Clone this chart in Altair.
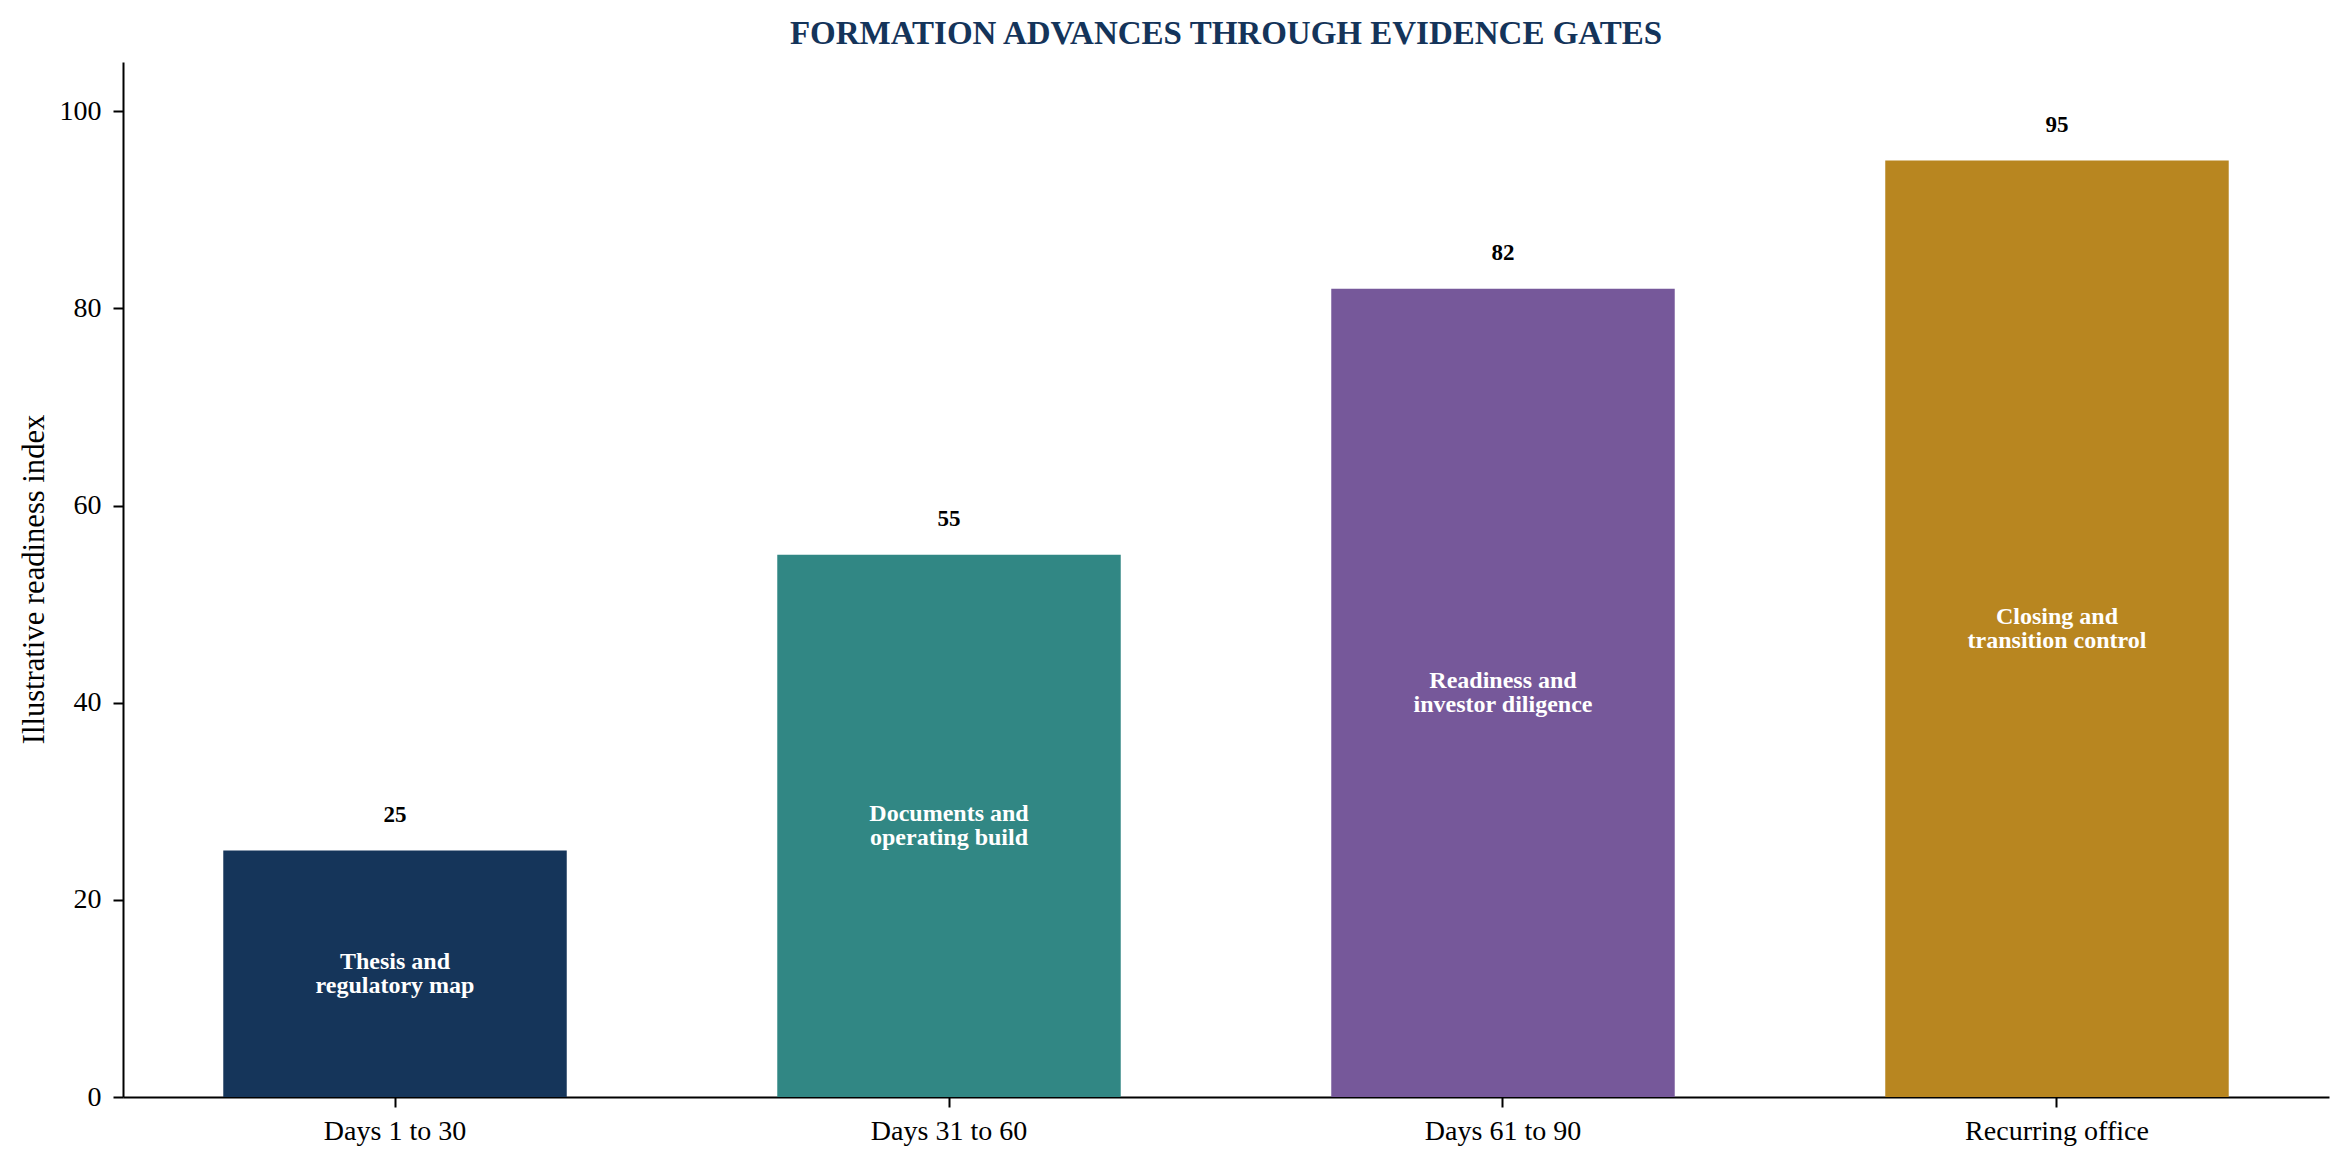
import altair as alt
import pandas as pd

stages = ["Days 1 to 30", "Days 31 to 60", "Days 61 to 90", "Recurring office"]
values = [25, 55, 82, 95]
inner_labels = [
    "Thesis and\nregulatory map",
    "Documents and\noperating build",
    "Readiness and\ninvestor diligence",
    "Closing and\ntransition control",
]
colors = ["#15355A", "#318784", "#76589A", "#B88620"]
y_ticks = [0, 20, 40, 60, 80, 100]

df = pd.DataFrame({"stage": stages, "value": values, "inner": inner_labels})

FONT = "Liberation Serif"

x_enc = alt.X(
    "stage:N",
    sort=stages,
    title=None,
    scale=alt.Scale(paddingInner=0.38, paddingOuter=0.181),
    axis=alt.Axis(labelAngle=0, labelFontSize=28, labelPadding=10, tickSize=10,
                  labelLimit=600),
)
y_scale = alt.Scale(domain=[0, 105], nice=False, zero=True)

base = alt.Chart(df)

bars = base.mark_bar().encode(
    x=x_enc,
    y=alt.Y(
        "value:Q",
        scale=y_scale,
        title="Illustrative readiness index",
        axis=alt.Axis(
            values=y_ticks,
            labelFontSize=28,
            labelPadding=12,
            tickSize=10,
            titleFontSize=30.6,
            titleFontWeight="normal",
            titleX=-80,
            titleY=517,
            titleAngle=270,
            titleAlign="center",
            titleBaseline="alphabetic",
        ),
    ),
    color=alt.Color(
        "stage:N",
        sort=stages,
        scale=alt.Scale(domain=stages, range=colors),
        legend=None,
    ),
)

value_text = base.mark_text(
    font=FONT, fontSize=23, fontWeight="bold", color="black",
    baseline="alphabetic", dy=-29,
).encode(
    x=alt.X("stage:N", sort=stages),
    y=alt.Y("value:Q", scale=y_scale),
    text=alt.Text("value:Q", format="d"),
)

inner_text = base.transform_calculate(mid="datum.value / 2").mark_text(
    font=FONT, fontSize=24, fontWeight="bold", color="white",
    baseline="middle", lineBreak="\n", lineHeight=24, dy=-12,
).encode(
    x=alt.X("stage:N", sort=stages),
    y=alt.Y("mid:Q", scale=y_scale),
    text="inner:N",
)

chart = (
    alt.layer(bars, value_text, inner_text)
    .properties(
        width=2206,
        height=1035,
        autosize=alt.AutoSizeParams(type="none"),
        padding={"left": 115, "top": 54, "right": 12, "bottom": 60},
        title=alt.TitleParams(
            "FORMATION ADVANCES THROUGH EVIDENCE GATES",
            font=FONT,
            fontSize=33,
            fontWeight="bold",
            color="#14345A",
            anchor="middle",
            baseline="bottom",
            offset=12,
            dy=34,
        ),
    )
    .configure_view(stroke=None)
    .configure_axis(
        labelFont=FONT,
        titleFont=FONT,
        labelColor="black",
        titleColor="black",
        domainColor="black",
        domainWidth=2,
        tickColor="black",
        tickWidth=2,
        grid=False,
    )
)

chart.save("out.html", embed_options={"renderer": "svg", "actions": False})
